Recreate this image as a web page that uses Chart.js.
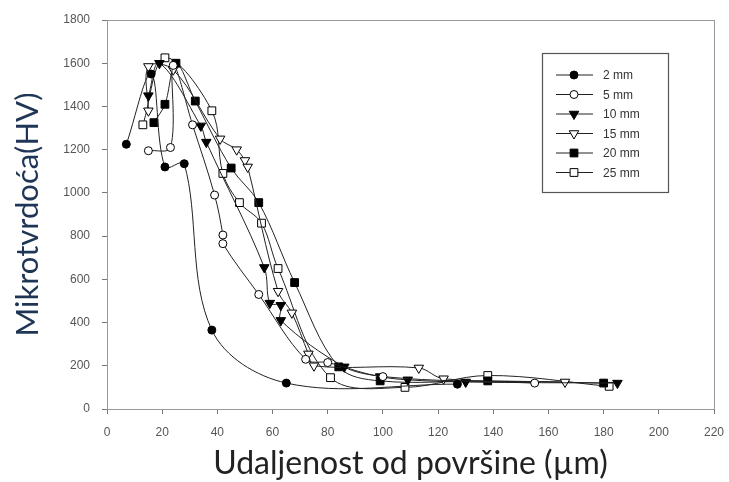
<!DOCTYPE html>
<html>
<head>
<meta charset="utf-8">
<script src="https://cdn.jsdelivr.net/npm/chart.js@4.4.1/dist/chart.umd.min.js"></script>
<style>
  html, body { margin: 0; padding: 0; background: #fff; }
  #wrap { width: 729px; height: 482px; }
</style>
</head>
<body>
<div id="wrap"><canvas id="mygraph" width="729" height="482"></canvas></div>
<script>
// values: [distance µm, HV]
const seriesNames = ['2 mm', '5 mm', '10 mm', '15 mm', '20 mm', '25 mm']
const d2 = [[7,1225],[16,1550],[21,1120],[28,1135],[38,365],[65,120],[127,115]]
const d5 = [[15,1195],[23,1210],[24,1590],[31,1315],[39,990],[42,805],[42,765],[55,530],[72,230],[80,215],[100,150],[155,120]]
const d10 = [[15,1450],[19,1600],[34,1310],[36,1235],[57,655],[59,490],[63,480],[63,410],[86,195],[99,150],[109,135],[130,125],[185,120]]
const d15 = [[15,1380],[15,1585],[24,1570],[41,1250],[47,1200],[50,1150],[51,1120],[62,545],[67,445],[73,255],[75,200],[113,190],[122,140],[166,125]]
const d20 = [[17,1325],[21,1410],[25,1600],[32,1425],[45,1115],[55,955],[68,585],[84,195],[99,130],[138,130],[180,120]]
const d25 = [[13,1315],[21,1625],[38,1380],[42,1090],[48,955],[56,860],[62,650],[81,145],[108,100],[138,155],[182,105]]
const xTicks = [0,20,40,60,80,100,120,140,160,180,200,220]
const yTicks = [0,200,400,600,800,1000,1200,1400,1600,1800]

const allData = [d2, d5, d10, d15, d20, d25]
const styles = [
  { pointStyle: 'circle', fill: '#000', rot: 0, r: 4 },
  { pointStyle: 'circle', fill: '#fff', rot: 0, r: 4 },
  { pointStyle: 'triangle', fill: '#000', rot: 180, r: 5.5 },
  { pointStyle: 'triangle', fill: '#fff', rot: 180, r: 5.5 },
  { pointStyle: 'rect', fill: '#000', rot: 0, r: 5.5 },
  { pointStyle: 'rect', fill: '#fff', rot: 0, r: 5.5 }
]

const datasets = allData.map((arr, i) => ({
  label: seriesNames[i],
  data: arr.map(p => ({ x: p[0], y: p[1] })),
  showLine: true,
  tension: 0.35,
  borderColor: '#222',
  borderWidth: 1,
  pointStyle: styles[i].pointStyle,
  pointRotation: styles[i].rot,
  pointRadius: styles[i].r,
  pointBackgroundColor: styles[i].fill,
  pointBorderColor: '#000',
  pointBorderWidth: 1
}))

// frame around the plot + the boxed legend inside it
const framePlugin = {
  id: 'frame',
  afterDatasetsDraw(chart) {
    const { ctx, chartArea: a } = chart
    ctx.save()
    ctx.strokeStyle = '#999'
    ctx.lineWidth = 1
    ctx.strokeRect(a.left + 0.5, a.top + 0.5, a.right - a.left, a.bottom - a.top)

    // legend
    const bx = 542, by = 53, bw = 126, bh = 139
    ctx.fillStyle = '#fff'
    ctx.fillRect(bx, by, bw, bh)
    ctx.strokeStyle = '#555'
    ctx.lineWidth = 1.2
    ctx.strokeRect(bx + 0.5, by + 0.5, bw, bh)
    ctx.font = '12px "Liberation Sans", Arial, sans-serif'
    ctx.textBaseline = 'middle'
    chart.data.datasets.forEach((ds, i) => {
      const y = 75 + i * 19.5
      ctx.strokeStyle = '#222'
      ctx.lineWidth = 1
      ctx.beginPath()
      ctx.moveTo(556, y)
      ctx.lineTo(593, y)
      ctx.stroke()
      ctx.fillStyle = ds.pointBackgroundColor
      ctx.strokeStyle = '#000'
      Chart.helpers.drawPoint(ctx, {
        pointStyle: ds.pointStyle, rotation: ds.pointRotation, radius: ds.pointRadius, borderWidth: 1
      }, 574, y)
      ctx.fillStyle = '#333'
      ctx.fillText(ds.label, 603, y + 1)
    })
    ctx.restore()
  }
}

const ctx = document.getElementById('mygraph').getContext('2d')
new Chart(ctx, {
  type: 'scatter',
  data: { datasets: datasets },
  plugins: [framePlugin],
  options: {
    responsive: false,
    animation: false,
    layout: { padding: { top: 20, right: 15, left: 9, bottom: 0 } },
    plugins: { legend: { display: false }, tooltip: { enabled: false } },
    scales: {
      x: {
        type: 'linear',
        min: 0, max: 220,
        afterBuildTicks: axis => { axis.ticks = xTicks.map(v => ({ value: v })) },
        afterFit: axis => { axis.height = 73; axis.paddingLeft = 0; axis.paddingRight = 0 },
        grid: { drawOnChartArea: false, drawTicks: true, tickLength: 5, color: '#777' },
        border: { display: true, color: '#999' },
        ticks: { color: '#555', padding: 11, maxRotation: 0, font: { family: '"Liberation Sans", Arial, sans-serif', size: 12 } },
        title: {
          display: true,
          text: 'Udaljenost od površine (µm)',
          color: '#222',
          font: { family: 'Lato, "Open Sans", sans-serif', size: 32 },
          padding: { top: 2, bottom: -1 }
        }
      },
      y: {
        type: 'linear',
        min: 0, max: 1800,
        afterBuildTicks: axis => { axis.ticks = yTicks.map(v => ({ value: v })) },
        afterFit: axis => { axis.width = 98 },
        grid: { drawOnChartArea: false, drawTicks: true, tickLength: 5, color: '#777' },
        border: { display: true, color: '#999' },
        ticks: {
          color: '#555', padding: 12,
          font: { family: '"Liberation Sans", Arial, sans-serif', size: 12 },
          callback: v => String(v)
        },
        title: {
          display: true,
          text: 'Mikrotvrdoća(HV)',
          color: '#1f3556',
          font: { family: 'Lato, "Open Sans", sans-serif', size: 31 },
          padding: { top: 0, bottom: 0 }
        }
      }
    }
  }
})
</script>
</body>
</html>
